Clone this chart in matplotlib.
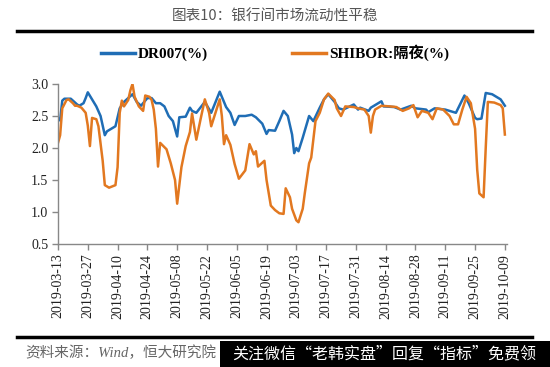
import matplotlib
matplotlib.use("Agg")
import matplotlib.pyplot as plt
from matplotlib.lines import Line2D
from matplotlib.patches import Rectangle
import pandas as pd

title = "图表10：银行间市场流动性平稳"
source = "资料来源：Wind，恒大研究院"
watermark = "关注微信“老韩实盘”回复“指标”免费领"
label_dr = "DR007(%)"
label_sh = "SHIBOR:隔夜(%)"

dr_dates = ["2019-03-13", "2019-03-14", "2019-03-15", "2019-03-16", "2019-03-19", "2019-03-22",
            "2019-03-23", "2019-03-25", "2019-03-26", "2019-03-27", "2019-03-29", "2019-03-31",
            "2019-04-02", "2019-04-04", "2019-04-05", "2019-04-09", "2019-04-11", "2019-04-13",
            "2019-04-17", "2019-04-19", "2019-04-21", "2019-04-24", "2019-04-26", "2019-04-28",
            "2019-04-30", "2019-05-02", "2019-05-04", "2019-05-06", "2019-05-08", "2019-05-09",
            "2019-05-12", "2019-05-14", "2019-05-15", "2019-05-17", "2019-05-21", "2019-05-24",
            "2019-05-28", "2019-05-31", "2019-06-02", "2019-06-04", "2019-06-06", "2019-06-09",
            "2019-06-12", "2019-06-14", "2019-06-17", "2019-06-19", "2019-06-20", "2019-06-23",
            "2019-06-25", "2019-06-27", "2019-06-29", "2019-07-01", "2019-07-02", "2019-07-03",
            "2019-07-04", "2019-07-06", "2019-07-09", "2019-07-11", "2019-07-14", "2019-07-16",
            "2019-07-18", "2019-07-21", "2019-07-23", "2019-07-25", "2019-07-30", "2019-08-01",
            "2019-08-02", "2019-08-06", "2019-08-07", "2019-08-12", "2019-08-13", "2019-08-18",
            "2019-08-21", "2019-08-26", "2019-08-28", "2019-09-02", "2019-09-03", "2019-09-06",
            "2019-09-11", "2019-09-16", "2019-09-20", "2019-09-22", "2019-09-25", "2019-09-26",
            "2019-09-28", "2019-09-30", "2019-10-03", "2019-10-07", "2019-10-09"]
dr_values = [2.47, 2.43, 2.74, 2.77, 2.77, 2.68,
             2.66, 2.70, 2.78, 2.87, 2.76, 2.65,
             2.50, 2.20, 2.26, 2.34, 2.62, 2.72,
             2.84, 2.72, 2.66, 2.78, 2.78, 2.70,
             2.70, 2.65, 2.50, 2.42, 2.18, 2.48,
             2.49, 2.63, 2.58, 2.55, 2.72, 2.55,
             2.88, 2.64, 2.55, 2.36, 2.50, 2.50,
             2.52, 2.48, 2.38, 2.22, 2.28, 2.27,
             2.42, 2.58, 2.50, 2.21, 1.92, 2.00,
             1.95, 2.16, 2.50, 2.42, 2.63, 2.76,
             2.84, 2.72, 2.62, 2.60, 2.68, 2.60,
             2.63, 2.58, 2.63, 2.73, 2.65, 2.64,
             2.60, 2.66, 2.62, 2.60, 2.56, 2.62,
             2.60, 2.55, 2.82, 2.70, 2.47, 2.45,
             2.46, 2.86, 2.84, 2.76, 2.66]

sh_dates = ["2019-03-13", "2019-03-14", "2019-03-15", "2019-03-17", "2019-03-18", "2019-03-19",
            "2019-03-20", "2019-03-21", "2019-03-22", "2019-03-24", "2019-03-26", "2019-03-27",
            "2019-03-28", "2019-03-29", "2019-03-31", "2019-04-01", "2019-04-03", "2019-04-04",
            "2019-04-06", "2019-04-09", "2019-04-10", "2019-04-11", "2019-04-12", "2019-04-13",
            "2019-04-15", "2019-04-16", "2019-04-17", "2019-04-18", "2019-04-20", "2019-04-22",
            "2019-04-23", "2019-04-25", "2019-04-26", "2019-04-27", "2019-04-28", "2019-04-29",
            "2019-04-30", "2019-05-03", "2019-05-05", "2019-05-07", "2019-05-08", "2019-05-10",
            "2019-05-12", "2019-05-14", "2019-05-15", "2019-05-17", "2019-05-19", "2019-05-21",
            "2019-05-23", "2019-05-24", "2019-05-26", "2019-05-28", "2019-05-29", "2019-05-30",
            "2019-05-31", "2019-06-02", "2019-06-04", "2019-06-06", "2019-06-09", "2019-06-11",
            "2019-06-13", "2019-06-14", "2019-06-15", "2019-06-18", "2019-06-19", "2019-06-21",
            "2019-06-23", "2019-06-25", "2019-06-27", "2019-06-28", "2019-06-30", "2019-07-01",
            "2019-07-03", "2019-07-04", "2019-07-06", "2019-07-07", "2019-07-09", "2019-07-10",
            "2019-07-12", "2019-07-14", "2019-07-16", "2019-07-18", "2019-07-21", "2019-07-22",
            "2019-07-24", "2019-07-26", "2019-07-30", "2019-08-01", "2019-08-04", "2019-08-06",
            "2019-08-07", "2019-08-08", "2019-08-09", "2019-08-12", "2019-08-16", "2019-08-19",
            "2019-08-22", "2019-08-25", "2019-08-27", "2019-08-29", "2019-08-31", "2019-09-03",
            "2019-09-05", "2019-09-07", "2019-09-10", "2019-09-13", "2019-09-15", "2019-09-17",
            "2019-09-19", "2019-09-21", "2019-09-23", "2019-09-25", "2019-09-26", "2019-09-27",
            "2019-09-29", "2019-09-30", "2019-10-01", "2019-10-04", "2019-10-07", "2019-10-08",
            "2019-10-09"]
sh_values = [2.08, 2.20, 2.62, 2.75, 2.76, 2.73,
             2.70, 2.66, 2.66, 2.63, 2.55, 2.35,
             2.03, 2.47, 2.45, 2.34, 1.80, 1.42,
             1.38, 1.42, 1.70, 2.55, 2.74, 2.65,
             2.75, 2.90, 3.00, 2.80, 2.65, 2.58,
             2.82, 2.80, 2.75, 2.60, 2.30, 1.71,
             2.08, 1.98, 1.76, 1.50, 1.13, 1.70,
             2.03, 2.25, 2.54, 2.13, 2.45, 2.76,
             2.55, 2.34, 2.55, 2.76, 2.50, 2.06,
             2.20, 2.05, 1.75, 1.52, 1.65, 2.06,
             1.90, 1.95, 1.71, 1.80, 1.50, 1.10,
             1.03, 0.98, 0.97, 1.37, 1.23, 1.05,
             0.87, 0.84, 1.05, 1.30, 1.76, 1.85,
             2.42, 2.55, 2.76, 2.85, 2.75, 2.62,
             2.50, 2.65, 2.64, 2.62, 2.60, 2.50,
             2.24, 2.50, 2.60, 2.66, 2.65, 2.64,
             2.58, 2.62, 2.67, 2.48, 2.58, 2.55,
             2.45, 2.62, 2.60, 2.50, 2.37, 2.37,
             2.60, 2.80, 2.70, 2.30, 1.66, 1.29,
             1.23, 2.00, 2.72, 2.71, 2.67, 2.62,
             2.21]

tick_dates = ["2019-03-13", "2019-03-27", "2019-04-10", "2019-04-24", "2019-05-08", "2019-05-22",
              "2019-06-05", "2019-06-19", "2019-07-03", "2019-07-17", "2019-07-31", "2019-08-14",
              "2019-08-28", "2019-09-11", "2019-09-25", "2019-10-09"]
y_ticks = [0.5, 1.0, 1.5, 2.0, 2.5, 3.0]

blue = "#1F6DB5"
orange = "#E27820"
serif = ["Liberation Serif", "Noto Sans CJK SC"]

fig = plt.figure(figsize=(5.5, 3.67), dpi=100)
ax = fig.add_axes([58 / 550, 1 - 244 / 367, (507 - 58) / 550, (244 - 84) / 367])

ax.plot(pd.to_datetime(dr_dates), dr_values, color=blue, lw=1.8, label=label_dr)
ax.plot(pd.to_datetime(sh_dates), sh_values, color=orange, lw=1.8, label=label_sh)

ax.set_xlim(pd.Timestamp("2019-03-13"), pd.Timestamp("2019-10-10"))
ax.set_ylim(0.5, 3.0)
ax.set_yticks(y_ticks)
ax.set_yticklabels([f"{v:.1f}" for v in y_ticks], family=serif, fontsize=10, color="#222222")
ax.set_xticks(pd.to_datetime(tick_dates))
ax.set_xticklabels(tick_dates, rotation=90, family=serif, fontsize=10, color="#222222")
for s in ["top", "right"]:
    ax.spines[s].set_visible(False)
for s in ["left", "bottom"]:
    ax.spines[s].set_color("#888888")
    ax.spines[s].set_linewidth(1.0)
ax.tick_params(axis="both", color="#888888", length=4, width=1.0, pad=3)
ax.set_facecolor("white")

# title and rules
fig.text(275 / 550, 1 - 17 / 367, title, ha="center", va="center", fontsize=10.5,
         family=["Noto Sans CJK SC"], color="#555555")
fig.add_artist(Line2D([17 / 550, 532 / 550], [1 - 31 / 367, 1 - 31 / 367], color="black", lw=2.5))
fig.add_artist(Line2D([17 / 550, 532 / 550], [1 - 337 / 367, 1 - 337 / 367], color="black", lw=2.5))

# legend
leg = fig.legend(loc="center", bbox_to_anchor=(0.5, 1 - 53 / 367), ncol=2, frameon=False,
                 prop={"family": serif, "weight": "bold", "size": 11}, handlelength=2.2,
                 handletextpad=0.2, columnspacing=5.5)
for line in leg.get_lines():
    line.set_linewidth(2.5)

# source
fig.text(25 / 550, 1 - 353 / 367, source, ha="left", va="center", fontsize=10.5,
         family=["Liberation Serif", "Noto Sans CJK SC"], style="italic", color="#666666")

# watermark box
fig.add_artist(Rectangle((220 / 550, 0), 330 / 550, (367 - 341) / 367, transform=fig.transFigure,
                         facecolor="black", edgecolor="none"))
fig.text(384 / 550, 1 - 354 / 367, watermark, ha="center", va="center", fontsize=11.5,
         family=["Noto Sans CJK SC"], color="white")

fig.savefig("out.png", dpi=100, facecolor="white")
